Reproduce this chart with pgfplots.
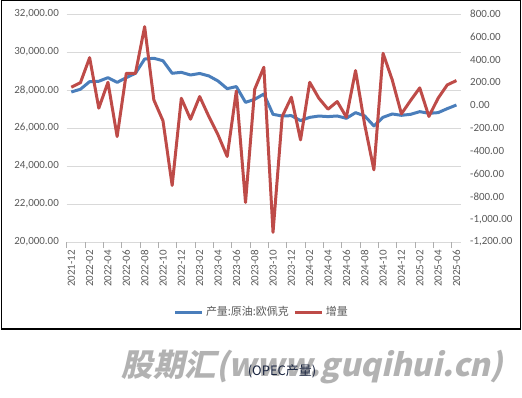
\documentclass[border=0pt]{standalone}
\usepackage{pgfplots}
\pgfplotsset{compat=1.18}
\usepackage{pgfplotstable}
\usepackage{fontspec}
\usepackage{graphicx}
\setmainfont{Carlito}
\newfontfamily\cjk{Noto Sans CJK SC}
\newfontfamily\wm{Noto Sans CJK SC}[FakeSlant=0.22,BoldFeatures={FakeSlant=0.22}]
\definecolor{sblue}{HTML}{4A7EBB}
\definecolor{sred}{HTML}{BE4B48}
\definecolor{lab}{HTML}{595959}
\definecolor{gridc}{HTML}{D9D9D9}
\definecolor{navy}{HTML}{1A2540}

\pgfplotstableread{
i v
0 27895
1 28040
2 28440
3 28460
4 28650
5 28400
6 28650
7 28880
8 29630
9 29670
10 29540
11 28880
12 28930
13 28790
14 28870
15 28740
16 28475
17 28070
18 28180
19 27350
20 27510
21 27790
22 26720
23 26630
24 26650
25 26390
26 26560
27 26630
28 26600
29 26633
30 26510
31 26808
32 26633
33 26107
34 26563
35 26738
36 26668
37 26720
38 26860
39 26773
40 26808
41 27018
42 27210
}\prodtable

\pgfplotstableread{
i v
0 158
1 198
2 417
3 -26
4 201
5 -275
6 280
7 280
8 689
9 47
10 -137
11 -704
12 61
13 -123
14 76
15 -99
16 -260
17 -450
18 125
19 -853
20 140
21 333
22 -1115
23 -99
24 70
25 -304
26 201
27 61
28 -35
29 32
30 -105
31 304
32 -172
33 -567
34 455
35 222
36 -76
37 41
38 152
39 -99
40 61
41 178
42 216
}\inctable

\begin{document}
\begin{tikzpicture}[x=1bp,y=1bp]
\path[use as bounding box] (0,0) rectangle (522,397);
\draw[black, line width=1.3bp] (1.6,68) rectangle (520.6,396.4);
\node[text=black!30, inner sep=0pt] at (312.5,30) {\resizebox{381bp}{!}{\wm\bfseries 股期汇(www.guqihui.cn)}};
\node[text=navy, inner sep=0pt] at (282,26) {\cjk\fontsize{13}{13}\selectfont (OPEC产量)};

\pgfplotsset{
  common/.style={
    at={(66.7bp,155bp)}, anchor=south west, scale only axis,
    width=394.3bp, height=228bp,
    xmin=-0.5, xmax=42.5,
    scaled y ticks=false,
    tick label style={font=\fontsize{11}{11}\selectfont, text=lab},
    /pgf/number format/.cd, fixed, fixed zerofill, precision=2, 1000 sep={,}, assume math mode=true,
    /pgfplots/.cd,
    yticklabel={\pgfmathprintnumber{\tick}},
    ytick style={draw=none},
  },
}

\begin{axis}[common,
  ymin=20000, ymax=32000,
  ytick={20000,22000,...,32000},
  axis line style={draw=none},
  tick pos=left,
  ymajorgrids, major grid style={gridc, line width=0.8bp},
  yticklabel style={anchor=east, inner sep=0pt},
  yticklabel shift=7.7bp,
  xtick={0,2,...,42},
  xticklabels={2021-12,2022-02,2022-04,2022-06,2022-08,2022-10,2022-12,2023-02,2023-04,2023-06,2023-08,2023-10,2023-12,2024-02,2024-04,2024-06,2024-08,2024-10,2024-12,2025-02,2025-04,2025-06},
  xtick style={draw=none},
  xticklabel style={rotate=90, anchor=east, inner sep=0pt},
  xticklabel shift=8bp,
  extra x ticks={-0.5,1.5,...,41.5},
  extra x tick labels={},
  extra x tick style={grid=none, tick align=outside, major tick length=6bp, xtick style={draw=gridc!80!black, line width=0.8bp}},
]
\addplot[sblue, line width=3bp, line join=round] table[x=i, y=v] {\prodtable};
\end{axis}

\begin{axis}[common,
  ymin=-1200, ymax=800,
  ytick={-1200,-1000,...,800},
  axis x line=none,
  axis y line*=right,
  y axis line style={draw=none},
  yticklabel style={anchor=west, inner sep=0pt},
  yticklabel shift=9bp,
  legend style={at={(0.495,-0.307)}, anchor=center, draw=none, fill=none,
    legend columns=2, font=\cjk\fontsize{11}{13}\selectfont, text=lab,
    inner sep=0pt, nodes={inner xsep=2.5bp},
    /tikz/every even column/.append style={column sep=2bp}},
  legend image code/.code={\draw[#1, line width=3bp] (0bp,0bp) -- (27bp,0bp);},
]
\addlegendimage{sblue, line width=3bp}
\addlegendentry{产量:原油:欧佩克}
\addplot[sred, line width=3bp, line join=round] table[x=i, y=v] {\inctable};
\addlegendentry{增量}
\end{axis}
\end{tikzpicture}
\end{document}
